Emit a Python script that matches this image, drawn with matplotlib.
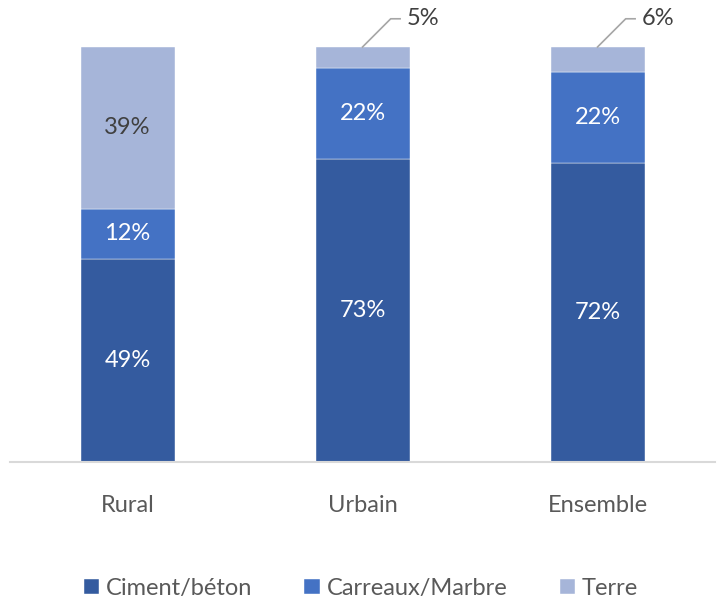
import numpy as np
import matplotlib
matplotlib.use('Agg')
import matplotlib.pyplot as plt

plt.rcParams['font.family'] = ['Lato', 'DejaVu Sans']

categories = ['Rural', 'Urbain', 'Ensemble']
series_names = ['Ciment/béton', 'Carreaux/Marbre', 'Terre']
ciment = [49, 73, 72]
carreaux = [12, 22, 22]
terre = [39, 5, 6]
colors = ['#345B9F', '#4472C4', '#A6B5D9']
label_colors = ['white', 'white', '#404040']

fig = plt.figure(figsize=(7.22, 6.04), dpi=100)
ax = fig.add_axes([10 / 722, 1 - 462 / 604, 705 / 722, 452 / 604])

x = np.arange(len(categories))
bottom = np.zeros(len(categories))
for vals, name, col, lc in zip([ciment, carreaux, terre], series_names, colors, label_colors):
    vals = np.array(vals, dtype=float)
    ax.bar(x, vals, 0.4, bottom=bottom, color=col, label=name,
           edgecolor='white', linewidth=0.3)
    for xi, b, v in zip(x, bottom, vals):
        if v >= 10:
            ax.text(xi, b + v / 2, f'{v:.0f}%', ha='center', va='center',
                    color=lc, fontsize=17)
        else:
            # small top segment: label outside with leader line
            top = b + v
            ax.plot([xi, xi + 0.12, xi + 0.16], [top, top + 6.8, top + 6.8],
                    color='#A6A6A6', lw=1.2, clip_on=False)
            ax.text(xi + 0.19, top + 6.8, f'{v:.0f}%', ha='left', va='center',
                    color='#404040', fontsize=17)
    bottom += vals

ax.set_xlim(-0.5, 2.5)
ax.set_ylim(0, 452 / 4.15)
ax.set_xticks(x)
ax.set_xticklabels(categories, fontsize=17, color='#595959')
ax.tick_params(axis='x', length=0, pad=24)
ax.set_yticks([])
for s in ['top', 'right', 'left']:
    ax.spines[s].set_visible(False)
ax.spines['bottom'].set_color('#D9D9D9')
ax.spines['bottom'].set_linewidth(1.5)

fig.legend(loc='center', bbox_to_anchor=(0.5, 0.026), ncol=3, frameon=False,
           fontsize=17, labelcolor='#595959', handlelength=0.65, handleheight=0.65,
           handletextpad=0.3, columnspacing=2.2)

fig.savefig('out.png', dpi=100)
